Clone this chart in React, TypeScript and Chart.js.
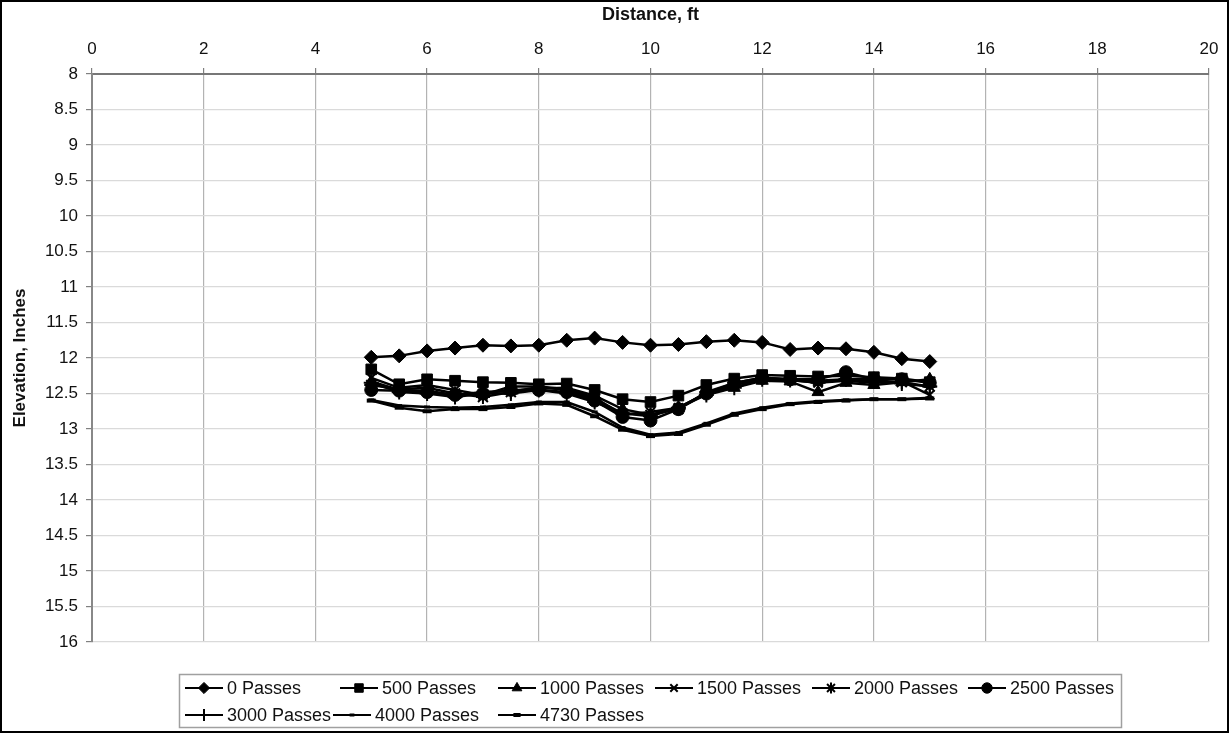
import React, { useEffect, useRef } from "react";
import { Chart, registerables } from "chart.js";
import { drawPoint } from "chart.js/helpers";

Chart.register(...registerables);

const distanceFt = [5, 5.5, 6, 6.5, 7, 7.5, 8, 8.5, 9, 9.5, 10, 10.5, 11, 11.5, 12, 12.5, 13, 13.5, 14, 14.5, 15];

const passes0 = [11.99, 11.97, 11.9, 11.86, 11.82, 11.83, 11.82, 11.75, 11.72, 11.78, 11.82, 11.81, 11.77, 11.75, 11.78, 11.88, 11.86, 11.87, 11.92, 12.01, 12.05];
const passes500 = [12.16, 12.37, 12.3, 12.32, 12.34, 12.35, 12.37, 12.36, 12.45, 12.58, 12.62, 12.53, 12.38, 12.29, 12.24, 12.25, 12.26, 12.25, 12.27, 12.29, 12.34];
const passes1000 = [12.33, 12.45, 12.46, 12.52, 12.48, 12.46, 12.43, 12.42, 12.53, 12.72, 12.8, 12.7, 12.5, 12.42, 12.32, 12.33, 12.48, 12.35, 12.38, 12.34, 12.3];
const passes1500 = [12.28, 12.42, 12.38, 12.45, 12.52, 12.4, 12.4, 12.44, 12.56, 12.8, 12.76, 12.7, 12.5, 12.38, 12.3, 12.31, 12.35, 12.32, 12.35, 12.33, 12.52];
const passes2000 = [12.38, 12.44, 12.42, 12.5, 12.55, 12.48, 12.41, 12.45, 12.58, 12.78, 12.8, 12.72, 12.48, 12.35, 12.28, 12.3, 12.32, 12.3, 12.33, 12.34, 12.4];
const passes2500 = [12.45, 12.46, 12.48, 12.52, 12.5, 12.45, 12.45, 12.48, 12.6, 12.83, 12.88, 12.72, 12.5, 12.35, 12.28, 12.3, 12.3, 12.2, 12.3, 12.3, 12.35];
const passes3000 = [12.35, 12.48, 12.5, 12.55, 12.5, 12.5, 12.45, 12.5, 12.62, 12.78, 12.82, 12.7, 12.52, 12.42, 12.3, 12.31, 12.35, 12.3, 12.3, 12.36, 12.4];
const passes4000 = [12.59, 12.67, 12.69, 12.7, 12.69, 12.66, 12.62, 12.62, 12.76, 12.98, 13.08, 13.05, 12.92, 12.78, 12.7, 12.64, 12.61, 12.59, 12.58, 12.58, 12.56];
const passes4730 = [12.6, 12.7, 12.75, 12.72, 12.72, 12.69, 12.64, 12.66, 12.82, 13.01, 13.1, 13.07, 12.94, 12.8, 12.72, 12.65, 12.62, 12.6, 12.58, 12.58, 12.57];

const seriesLabels = ["0 Passes", "500 Passes", "1000 Passes", "1500 Passes", "2000 Passes", "2500 Passes", "3000 Passes", "4000 Passes", "4730 Passes"];
const seriesValues = [passes0, passes500, passes1000, passes1500, passes2000, passes2500, passes3000, passes4000, passes4730];

const markerStyles = [
  { pointStyle: "rectRot", radius: 7, borderWidth: 1 },
  { pointStyle: "rect", radius: 7.5, borderWidth: 1 },
  { pointStyle: "triangle", radius: 7, borderWidth: 1 },
  { pointStyle: "crossRot", radius: 6.5, borderWidth: 2 },
  { pointStyle: "star", radius: 7, borderWidth: 2 },
  { pointStyle: "circle", radius: 6.5, borderWidth: 1 },
  { pointStyle: "cross", radius: 7.5, borderWidth: 2 },
  { pointStyle: "line", radius: 3, borderWidth: 3 },
  { pointStyle: "line", radius: 4.5, borderWidth: 4 },
];

// legend layout (line start x, row)
const legendPos = [
  [185, 0], [340, 0], [498, 0], [655, 0], [812, 0], [968, 0],
  [185, 1], [333, 1], [498, 1],
];

const FONT = "'Liberation Sans', Arial, sans-serif";

const customLegend = {
  id: "customLegend",
  afterDraw(chart: any) {
    const ctx = chart.ctx;
    ctx.save();
    // outer border
    ctx.strokeStyle = "#000";
    ctx.lineWidth = 2;
    ctx.strokeRect(1, 1, chart.width - 2, chart.height - 2);
    // legend box
    ctx.strokeStyle = "#a0a0a0";
    ctx.lineWidth = 1.5;
    ctx.strokeRect(179.5, 674.5, 942, 53);
    ctx.font = `18px ${FONT}`;
    ctx.textBaseline = "middle";
    ctx.textAlign = "left";
    const rowY = [688, 715];
    seriesLabels.forEach((label, i) => {
      const [x0, row] = legendPos[i];
      const y = rowY[row];
      ctx.strokeStyle = "#000";
      ctx.fillStyle = "#000";
      ctx.lineWidth = 2;
      ctx.beginPath();
      ctx.moveTo(x0, y);
      ctx.lineTo(x0 + 38, y);
      ctx.stroke();
      const m = markerStyles[i];
      ctx.lineWidth = m.borderWidth;
      drawPoint(ctx, { pointStyle: m.pointStyle as any, radius: m.radius * 0.8, rotation: 0, borderWidth: m.borderWidth }, x0 + 19, y);
      ctx.fillStyle = "#111";
      ctx.fillText(label, x0 + 42, y + 1);
    });
    ctx.restore();
  },
};

export default function App() {
  const canvasRef = useRef<HTMLCanvasElement | null>(null);

  useEffect(() => {
    if (!canvasRef.current) return;
    const datasets = seriesLabels.map((label, i) => ({
      label,
      data: distanceFt.map((x, j) => ({ x, y: seriesValues[i][j] })),
      borderColor: "#000",
      backgroundColor: "#000",
      borderWidth: 2.5,
      pointStyle: markerStyles[i].pointStyle as any,
      pointRadius: markerStyles[i].radius,
      pointBorderWidth: markerStyles[i].borderWidth,
      pointBackgroundColor: "#000",
      pointBorderColor: "#000",
      tension: 0,
      showLine: true,
    }));

    const chart = new Chart(canvasRef.current, {
      type: "scatter",
      data: { datasets },
      plugins: [customLegend],
      options: {
        animation: false,
        responsive: false,
        maintainAspectRatio: false,
        layout: { padding: { top: 0, left: 0, right: 20, bottom: 91 } },
        plugins: {
          legend: { display: false },
          tooltip: { enabled: false },
        },
        scales: {
          x: {
            type: "linear",
            position: "top",
            min: 0,
            max: 20,
            ticks: {
              stepSize: 2,
              padding: 8,
              color: "#111",
              font: { family: FONT, size: 17 },
              callback: (v: any) => `${v}`,
            },
            title: {
              display: true,
              text: "Distance, ft",
              color: "#111",
              font: { family: FONT, size: 18, weight: "bold" },
              padding: { top: 4, bottom: 0 },
            },
            grid: {
              color: "#b3b3b3",
              lineWidth: 1.2,
              tickLength: 6,
              tickColor: "#808080",
            },
            border: { color: "#777", width: 2 },
            afterFit(scale: any) {
              scale.height = 74;
            },
          },
          y: {
            type: "linear",
            reverse: true,
            min: 8,
            max: 16,
            ticks: {
              stepSize: 0.5,
              autoSkip: false,
              padding: 8,
              color: "#111",
              font: { family: FONT, size: 17 },
              callback: (v: any) => `${v}`,
            },
            title: {
              display: true,
              text: "Elevation, Inches",
              color: "#111",
              font: { family: FONT, size: 17, weight: "bold" },
              padding: { top: 10, bottom: 0 },
            },
            grid: {
              color: "#dadada",
              lineWidth: 1.2,
              tickLength: 6,
              tickColor: "#808080",
            },
            border: { color: "#888", width: 2 },
            afterFit(scale: any) {
              scale.width = 92;
            },
          },
        },
      },
    });
    return () => chart.destroy();
  }, []);

  return (
    <div style={{ position: "fixed", left: 0, top: 0, width: 1229, height: 733, background: "#fff" }}>
      <canvas ref={canvasRef} width={1229} height={733} style={{ display: "block", width: 1229, height: 733 }} />
    </div>
  );
}
